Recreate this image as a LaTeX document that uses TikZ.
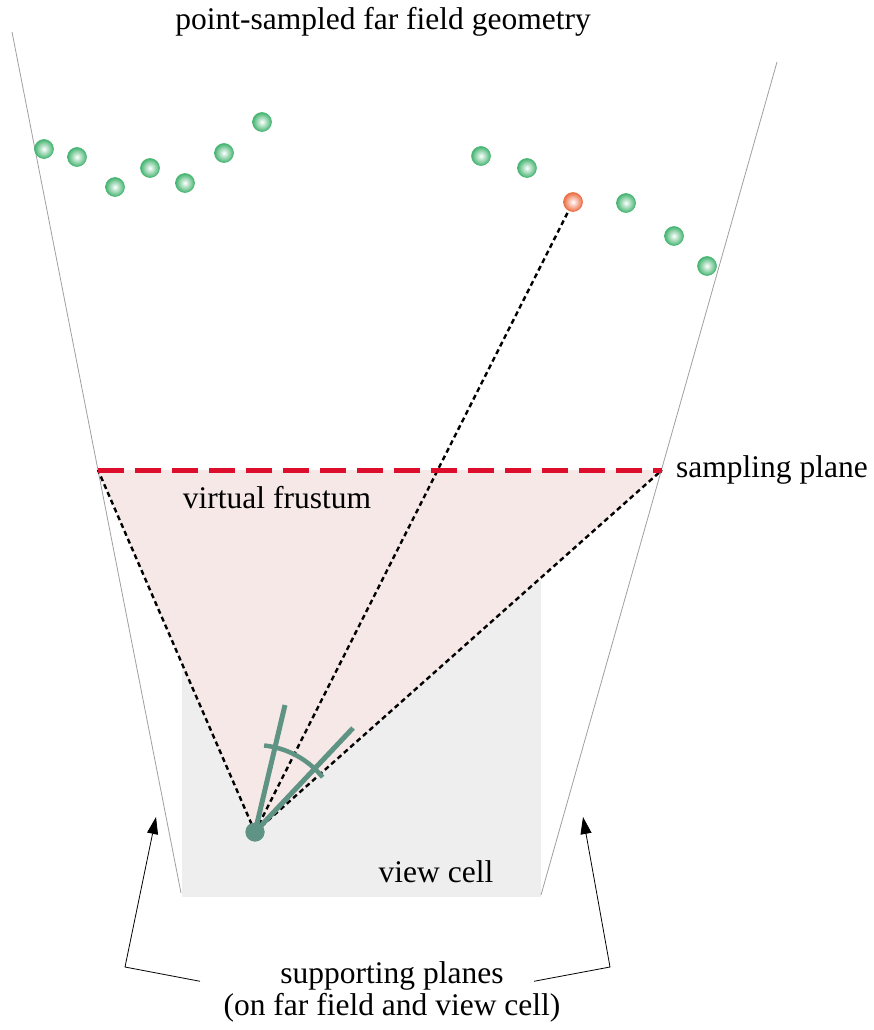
\documentclass[tikz,border=0pt]{standalone}
\usepackage{fontspec}
\setmainfont{Liberation Serif}
\usetikzlibrary{arrows.meta, positioning, calc}
\definecolor{farGreen}{HTML}{46B572}
\definecolor{farOrange}{HTML}{EC6E43}
\definecolor{planeRed}{HTML}{DC0E2C}
\definecolor{frustumPink}{HTML}{F7E8E8}
\definecolor{cellGray}{HTML}{EEEEEE}
\definecolor{viewTeal}{HTML}{5F9384}
\tikzset{
    farfield/.style={x=1pt, y=-1pt, >={Triangle[length=17pt, width=11pt]},
        font=\fontsize{31.5}{32.5}\selectfont},
    support/.style={draw=gray!75, line width=0.8pt},
    ray/.style={draw=black, line width=2.4pt, dash pattern=on 5pt off 3.5pt},
    sampleplane/.style={draw=planeRed, line width=5pt, dash pattern=on 26pt off 11pt},
    viewdir/.style={draw=viewTeal, line width=5pt},
    farpoint/.style={circle, minimum size=19pt, inner sep=0pt, draw=#1, line width=0.6pt,
        inner color=white, outer color=#1},
    eyept/.style={circle, fill=viewTeal, minimum size=19pt, inner sep=0pt},
    txt/.style={inner sep=0pt, align=center},
    pointer/.style={->, line width=0.8pt},
}
\begin{document}
\begin{tikzpicture}[farfield]
    \useasboundingbox (0,0) rectangle (874,1030);

    % supporting planes
    \coordinate (supLtop) at (12,32);
    \coordinate (supLbot) at (181,893);
    \coordinate (supRtop) at (777,62);
    \coordinate (supRbot) at (541,895);

    % view cell and virtual frustum
    \fill[cellGray] (182,580) rectangle (541,897);
    \coordinate (planeL) at (98,470);
    \coordinate (planeR) at (662,470);
    \node[eyept] (eye) at (255,832) {};
    \fill[frustumPink] (planeL) -- (planeR) -- (eye.center) -- cycle;

    \draw[support] (supLtop) -- (supLbot);
    \draw[support] (supRtop) -- (supRbot);

    % far field samples
    \foreach \x/\y [count=\i] in {44/149, 77/157, 115/187, 150/168, 185/183, 224/153,
        262/122, 481/156, 527/168, 626/203, 674/236, 707/266}
        \node[farpoint=farGreen] (g\i) at (\x,\y) {};
    \node[farpoint=farOrange] (hit) at (573,202) {};

    % rays from the view point
    \draw[ray] (eye.center) -- (planeL);
    \draw[ray] (eye.center) -- (planeR);
    \draw[ray] (eye.center) -- (hit);
    \draw[sampleplane] (planeL) -- (planeR);

    % view direction and field of view
    \coordinate (dirA) at (285,705);
    \coordinate (dirB) at (353,728);
    \draw[viewdir] (eye.center) -- (dirA);
    \draw[viewdir] (eye.center) -- (dirB);
    \draw[viewdir, line width=4.5pt] ($(eye.center)+(-84:87)$) arc[start angle=-84, end angle=-39, radius=87];
    \node[eyept] at (eye) {};

    % labels
    \node[txt] (title) at (383,22) {point-sampled far field geometry};
    \node[txt] (frustum) at (277,498) {virtual frustum};
    \node[txt, anchor=west] (sampling) at (676,470) {sampling plane};
    \node[txt] (cell) at (436,872) {view cell};
    \node[txt] (supp) at (392,992) {supporting planes\\(on far field and view cell)};

    % pointers to the supporting planes
    \coordinate (bendL) at (125,967);
    \coordinate (tipL) at (156,817);
    \coordinate (bendR) at (610,967);
    \coordinate (tipR) at (583,817);
    \draw[pointer] ($(supp.north)+(-192,20)$) -- (bendL) -- (tipL);
    \draw[pointer] ($(supp.north)+(142,20)$) -- (bendR) -- (tipR);
\end{tikzpicture}
\end{document}
